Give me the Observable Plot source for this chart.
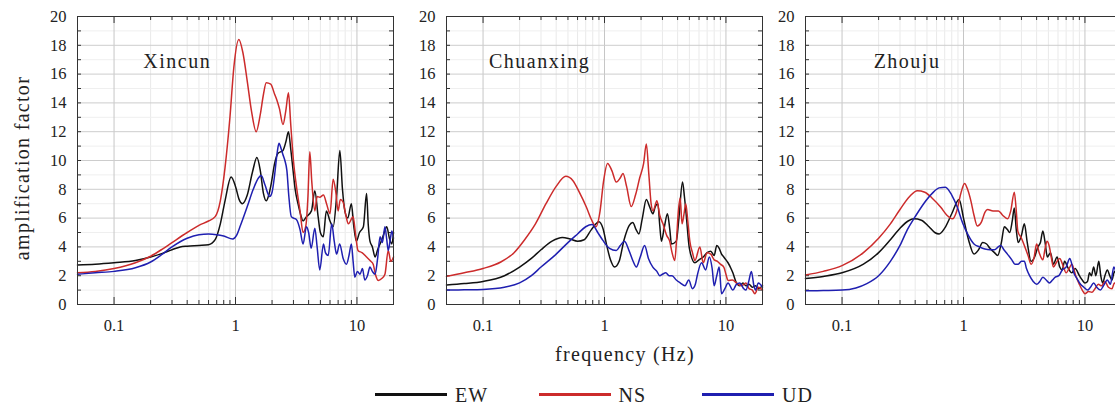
<!DOCTYPE html>
<html>
<head>
<meta charset="utf-8">
<script src="https://cdn.jsdelivr.net/npm/d3@7"></script>
<script src="https://cdn.jsdelivr.net/npm/@observablehq/plot@0.6"></script>
<style>
  html, body { margin: 0; padding: 0; background: #fff; overflow: hidden; }
  #wrap { position: relative; width: 1115px; height: 410px; overflow: hidden;
          font-family: "Liberation Serif", "DejaVu Serif", serif; color: #222; }
  .panel { position: absolute; top: 0; }
  .ylab { position: absolute; left: 22px; top: 168px; transform: translate(-50%, -50%) rotate(-90deg);
          font-size: 20px; letter-spacing: 1.3px; white-space: nowrap; line-height: 20px; }
  .xlab { position: absolute; left: 625px; top: 344px; transform: translateX(-50%);
          font-size: 20px; letter-spacing: 1.3px; white-space: nowrap; line-height: 20px; }
  .lg-bar { position: absolute; height: 3px; }
  .lg-txt { position: absolute; font-size: 20px; letter-spacing: 1px; line-height: 20px; white-space: nowrap; }
</style>
</head>
<body>
<div id="wrap"></div>
<script>
// ---------------- data ----------------
const stations = ["Xincun", "Chuanxing", "Zhouju"];
const components = ["EW", "NS", "UD"];
const componentColors = ["#111111", "#cc2b2b", "#1f1fb0"];
const xTickValues = [0.1, 1, 10];
const yTickValues = [0, 2, 4, 6, 8, 10, 12, 14, 16, 18, 20];
const xLabel = "frequency (Hz)";
const yLabel = "amplification factor";

// [frequency (Hz), amplification factor]
const xincunEW = [[0.05,2.75],[0.07,2.8],[0.1,2.9],[0.15,3.05],[0.2,3.3],[0.25,3.55],[0.3,3.8],[0.35,4.0],[0.4,4.05],[0.5,4.1],[0.6,4.15],[0.68,4.5],[0.75,5.6],[0.82,7.2],[0.92,8.85],[1.0,8.2],[1.07,7.3],[1.14,7.0],[1.25,7.6],[1.38,9.2],[1.5,10.2],[1.6,9.3],[1.7,7.7],[1.79,7.2],[1.88,7.6],[1.97,8.4],[2.1,9.8],[2.24,10.5],[2.46,10.7],[2.6,11.3],[2.73,12.0],[2.85,10.8],[2.98,9.3],[3.1,8.0],[3.27,7.0],[3.45,6.2],[3.6,5.8],[3.84,6.1],[4.22,6.5],[4.5,7.9],[4.79,6.1],[5.0,5.0],[5.28,4.7],[5.6,6.5],[6.0,5.8],[6.37,5.4],[6.8,7.5],[7.23,10.7],[7.6,8.0],[7.95,6.5],[8.4,6.0],[9.0,7.0],[9.4,5.5],[9.9,4.4],[10.5,5.0],[11.3,5.4],[12.0,7.7],[12.4,5.5],[12.8,4.4],[13.4,4.0],[14.1,3.3],[14.8,3.8],[15.5,4.2],[16.5,4.8],[17.6,5.4],[18.5,4.6],[19.4,4.2],[20,5.0]];
const xincunNS = [[0.05,2.2],[0.07,2.3],[0.1,2.5],[0.15,2.9],[0.2,3.35],[0.25,3.85],[0.3,4.3],[0.4,5.0],[0.5,5.5],[0.6,5.8],[0.68,6.1],[0.75,7.2],[0.82,9.5],[0.9,13.0],[0.97,16.5],[1.065,18.4],[1.15,17.5],[1.25,15.5],[1.35,13.5],[1.48,12.0],[1.6,13.2],[1.7,14.6],[1.79,15.4],[1.95,15.3],[2.1,14.6],[2.19,14.2],[2.3,13.6],[2.46,12.5],[2.6,13.5],[2.73,14.7],[2.85,12.5],[3.0,10.0],[3.2,8.0],[3.4,6.5],[3.6,5.0],[3.8,5.5],[3.95,7.5],[4.09,10.6],[4.25,8.5],[4.5,6.5],[4.7,7.5],[4.94,7.45],[5.3,7.6],[5.62,7.0],[6.0,6.3],[6.37,8.7],[6.7,7.8],[7.0,6.5],[7.3,7.3],[7.7,7.1],[8.1,6.2],[8.5,5.6],[9.3,6.1],[9.7,5.0],[10.2,3.75],[11.0,3.6],[12.0,3.3],[13.0,3.0],[13.6,2.8],[14.3,2.0],[15.0,1.67],[16.0,1.8],[17.0,2.1],[18.1,3.75],[19.0,3.0],[20,3.3]];
const xincunUD = [[0.05,2.1],[0.07,2.2],[0.1,2.3],[0.15,2.55],[0.2,2.95],[0.25,3.5],[0.3,4.0],[0.4,4.6],[0.5,4.85],[0.6,4.9],[0.7,4.85],[0.8,4.75],[0.95,4.55],[1.02,4.8],[1.1,5.5],[1.25,6.8],[1.4,8.0],[1.55,8.8],[1.63,8.95],[1.75,8.3],[1.91,7.5],[2.0,7.8],[2.1,9.0],[2.2,10.5],[2.28,11.2],[2.38,10.8],[2.46,10.4],[2.55,10.0],[2.65,9.3],[2.75,7.5],[2.88,6.1],[3.0,6.0],[3.17,5.9],[3.4,5.2],[3.6,4.2],[3.84,5.4],[4.0,5.0],[4.2,3.9],[4.5,5.3],[4.7,4.0],[4.94,2.4],[5.3,4.2],[5.5,3.6],[5.8,3.4],[6.2,5.6],[6.5,4.4],[6.8,3.5],[7.2,4.2],[7.7,3.2],[8.2,2.8],[8.6,3.4],[9.0,4.2],[9.3,3.0],[9.6,1.9],[10.1,2.3],[10.6,2.1],[11.1,2.5],[11.6,1.7],[12.2,2.0],[12.8,2.6],[13.4,2.3],[14.1,2.1],[14.8,3.2],[15.5,4.7],[16.2,4.3],[17.0,5.4],[17.6,4.5],[18.1,3.75],[18.8,4.5],[19.4,5.1],[20,4.6]];

const chuanxingEW = [[0.05,1.35],[0.07,1.45],[0.1,1.6],[0.15,2.0],[0.2,2.6],[0.25,3.2],[0.3,3.8],[0.37,4.4],[0.45,4.65],[0.52,4.55],[0.6,4.4],[0.68,4.5],[0.78,5.2],[0.9,5.75],[0.97,5.3],[1.05,4.0],[1.12,3.1],[1.21,2.6],[1.32,3.0],[1.45,4.5],[1.6,5.5],[1.71,5.7],[1.82,5.2],[1.92,4.9],[2.05,6.0],[2.21,7.3],[2.35,6.8],[2.5,6.3],[2.62,6.8],[2.75,7.0],[2.85,5.5],[2.94,4.4],[3.1,5.3],[3.3,6.3],[3.45,5.2],[3.56,4.2],[3.9,4.4],[4.1,6.0],[4.39,8.5],[4.55,7.5],[4.7,6.3],[5.0,3.9],[5.55,2.9],[6.0,3.1],[6.5,3.3],[7.0,3.6],[7.5,3.7],[8.0,3.4],[8.4,4.1],[8.8,3.9],[9.2,3.5],[9.6,3.3],[10.0,3.1],[10.4,2.9],[11.0,2.5],[11.4,2.2],[12.2,1.5],[13.0,1.3],[13.8,1.5],[14.6,1.3],[15.5,1.4],[16.5,1.2],[17.5,1.3],[18.5,1.1],[20,1.3]];
const chuanxingNS = [[0.05,1.95],[0.07,2.2],[0.1,2.5],[0.14,2.95],[0.18,3.6],[0.22,4.5],[0.27,5.6],[0.33,7.0],[0.4,8.2],[0.48,8.9],[0.55,8.6],[0.62,7.8],[0.71,6.75],[0.78,5.9],[0.85,5.4],[0.92,6.5],[0.98,8.5],[1.06,9.8],[1.15,9.3],[1.25,8.5],[1.35,8.8],[1.42,9.1],[1.52,8.2],[1.66,6.8],[1.8,7.6],[1.95,8.8],[2.1,9.8],[2.21,11.15],[2.32,9.0],[2.42,7.0],[2.51,6.5],[2.7,7.2],[2.85,6.2],[3.03,5.6],[3.25,4.8],[3.44,4.4],[3.6,3.6],[3.79,3.05],[3.92,4.5],[4.04,6.3],[4.2,7.4],[4.35,5.6],[4.5,6.2],[4.67,7.0],[4.85,5.8],[5.04,4.4],[5.3,3.6],[5.55,3.05],[6.1,4.0],[6.5,2.9],[7.0,3.6],[7.5,3.5],[8.0,3.1],[8.5,3.0],[9.0,2.8],[9.6,2.6],[10.0,2.1],[10.4,1.67],[11.3,1.7],[12.2,1.5],[13.4,1.3],[14.6,1.5],[15.5,1.1],[16.5,1.0],[17.3,0.75],[18.5,1.2],[20,1.0]];
const chuanxingUD = [[0.05,1.0],[0.07,1.02],[0.1,1.05],[0.15,1.2],[0.2,1.5],[0.25,2.0],[0.3,2.6],[0.4,3.5],[0.5,4.3],[0.6,4.9],[0.7,5.4],[0.79,5.55],[0.88,5.0],[0.97,4.45],[1.1,3.9],[1.25,3.75],[1.35,4.1],[1.46,4.4],[1.6,3.7],[1.72,3.0],[1.83,2.6],[1.97,3.3],[2.14,4.1],[2.3,3.2],[2.5,2.6],[2.7,2.3],[2.85,2.0],[3.0,2.1],[3.2,2.2],[3.4,2.0],[3.6,2.0],[3.9,1.7],[4.2,1.5],[4.6,1.3],[4.94,1.7],[5.3,1.1],[5.6,1.4],[5.8,2.0],[6.3,2.9],[6.8,2.4],[7.3,3.3],[7.7,2.5],[8.0,1.3],[8.4,2.0],[8.8,2.6],[9.2,0.75],[9.8,1.1],[10.4,1.5],[11.4,1.0],[12.2,1.4],[13.0,1.5],[14.0,1.1],[14.6,1.0],[15.4,1.6],[16.2,2.3],[17.0,1.3],[17.5,1.0],[18.5,1.5],[20,1.2]];

const zhoujuEW = [[0.05,1.8],[0.07,1.95],[0.1,2.2],[0.15,2.8],[0.2,3.6],[0.25,4.5],[0.3,5.3],[0.35,5.8],[0.39,5.95],[0.45,5.85],[0.52,5.4],[0.58,5.0],[0.63,4.9],[0.7,5.3],[0.8,6.3],[0.92,7.3],[1.0,6.0],[1.1,4.5],[1.22,3.5],[1.33,3.8],[1.44,4.3],[1.55,4.2],[1.65,3.9],[1.8,3.6],[1.91,3.4],[2.05,4.3],[2.17,5.4],[2.3,5.2],[2.4,5.0],[2.52,5.8],[2.62,6.7],[2.72,5.2],[2.82,4.3],[3.0,4.8],[3.17,5.6],[3.35,4.3],[3.6,3.0],[3.85,3.3],[4.1,4.0],[4.3,4.3],[4.5,5.1],[4.7,4.3],[4.9,3.3],[5.2,3.6],[5.5,2.8],[5.9,3.3],[6.2,2.6],[6.5,2.4],[6.8,3.0],[7.2,2.6],[7.8,2.2],[8.3,2.5],[9.0,2.0],[9.5,1.7],[10.0,1.5],[10.5,1.6],[10.9,2.2],[11.3,2.0],[11.8,2.6],[12.3,2.0],[13.0,3.0],[13.5,2.0],[14.0,1.5],[14.6,2.0],[15.3,2.4],[16.0,2.0],[16.7,1.7],[17.5,2.3],[18.5,2.0],[20,2.2]];
const zhoujuNS = [[0.05,2.05],[0.07,2.3],[0.1,2.7],[0.15,3.6],[0.2,4.6],[0.25,5.6],[0.3,6.6],[0.36,7.5],[0.417,7.9],[0.48,7.8],[0.55,7.4],[0.65,6.75],[0.73,6.2],[0.81,5.95],[0.88,6.5],[0.95,7.7],[1.02,8.4],[1.08,8.0],[1.15,7.2],[1.22,6.2],[1.3,5.45],[1.4,5.7],[1.5,6.4],[1.58,6.6],[1.75,6.5],[1.94,6.5],[2.1,6.2],[2.31,5.95],[2.45,6.5],[2.62,7.8],[2.72,6.5],[2.8,5.1],[3.0,4.6],[3.17,4.1],[3.4,3.4],[3.6,2.8],[3.8,3.2],[4.0,4.2],[4.2,3.6],[4.5,3.1],[4.7,3.9],[4.88,4.4],[5.1,4.0],[5.3,3.2],[5.5,2.6],[5.8,2.9],[6.2,3.2],[6.6,2.7],[7.0,2.2],[7.4,2.5],[7.8,2.8],[8.4,2.0],[9.0,1.4],[9.5,1.0],[10,0.75],[10.7,0.9],[11.4,0.85],[12.1,1.1],[12.9,1.4],[13.7,1.3],[14.6,1.6],[15.6,1.2],[16.7,1.1],[17.5,1.5],[18.5,1.3],[20,1.2]];
const zhoujuUD = [[0.05,0.95],[0.07,0.97],[0.1,1.0],[0.13,1.15],[0.16,1.45],[0.2,2.0],[0.25,3.0],[0.3,4.1],[0.345,5.2],[0.4,6.1],[0.47,7.0],[0.55,7.7],[0.63,8.1],[0.71,8.15],[0.8,7.6],[0.89,6.75],[0.98,5.7],[1.08,4.9],[1.22,4.2],[1.35,4.0],[1.5,3.85],[1.65,3.8],[1.8,3.8],[1.93,4.0],[2.03,4.1],[2.15,3.8],[2.3,3.5],[2.5,3.1],[2.65,2.8],[2.82,2.8],[3.0,3.0],[3.17,3.0],[3.3,2.5],[3.5,2.0],[3.75,1.6],[4.0,1.4],[4.25,1.6],[4.5,1.9],[4.8,1.7],[5.1,1.5],[5.4,1.7],[5.7,1.9],[6.1,2.0],[6.5,2.4],[7.0,2.6],[7.5,3.2],[7.8,2.8],[8.1,2.2],[8.6,1.8],[9.2,1.4],[9.8,1.2],[10.5,1.0],[11.1,1.2],[11.8,1.5],[12.5,1.2],[13.4,1.0],[14.2,1.3],[15.3,1.7],[16.2,1.4],[17.3,2.6],[18.5,2.0],[20,2.3]];

const stationSeries = [
  [xincunEW, xincunNS, xincunUD],
  [chuanxingEW, chuanxingNS, chuanxingUD],
  [zhoujuEW, zhoujuNS, zhoujuUD]
];
// where each station name sits (frequency, amplification at baseline)
const stationLabelFreq = [0.174, 0.112, 0.182];
const stationLabelAmp = 16.4;

// ---------------- layout ----------------
const W = 316, H = 288, ML = 50, MR = 10, MT = 16, MB = 40;
const frameLefts = [77, 446, 805];
const font = '"Liberation Serif", "DejaVu Serif", serif';
const xDomain = [0.05, 20];
const yDomain = [0, 20];

const decades = [0.01, 0.1, 1];
const minorX = decades.flatMap(d => d3.range(2, 10).map(k => +(k * d * 10).toPrecision(3)))
  .filter(v => v > xDomain[0] && v < xDomain[1] && !xTickValues.includes(v));
const unitY = d3.range(1, 20);
const oddY = unitY.filter(v => v % 2 === 1);
const gridY = yTickValues.filter(v => v > 0 && v < 20);

const wrap = document.getElementById("wrap");

stations.forEach((name, i) => {
  const data = [];
  components.forEach((c, j) => {
    stationSeries[i][j].forEach(([f, a]) => data.push({comp: c, f, a}));
  });
  const chart = Plot.plot({
    width: ML + W + MR, height: MT + H + MB,
    marginLeft: ML, marginRight: MR, marginTop: MT, marginBottom: MB,
    style: {fontFamily: font, fontSize: "16.5px", color: "#222", background: "transparent", overflow: "visible"},
    x: {type: "log", domain: xDomain},
    y: {domain: yDomain},
    color: {domain: components, range: componentColors},
    marks: [
      Plot.ruleX(minorX, {stroke: "#e9e9e9", strokeWidth: 1}),
      Plot.ruleY(oddY, {stroke: "#efefef", strokeWidth: 1}),
      Plot.ruleX(xTickValues, {stroke: "#c6c6c6", strokeWidth: 1}),
      Plot.ruleY(gridY, {stroke: "#cdcdcd", strokeWidth: 1}),
      // inward ticks on the frame
      Plot.ruleX(minorX, {insetTop: H - 4, stroke: "#333"}),
      Plot.ruleX(minorX, {insetBottom: H - 4, stroke: "#333"}),
      Plot.ruleX(xTickValues, {insetTop: H - 7, stroke: "#333"}),
      Plot.ruleX(xTickValues, {insetBottom: H - 7, stroke: "#333"}),
      Plot.ruleY(unitY, {insetRight: W - 4, stroke: "#333"}),
      Plot.ruleY(unitY, {insetLeft: W - 4, stroke: "#333"}),
      Plot.line(data, {x: "f", y: "a", z: "comp", stroke: "comp", curve: "monotone-x", strokeWidth: 1.5}),
      Plot.text([name], {x: stationLabelFreq[i], y: stationLabelAmp, text: d => d, textAnchor: "start",
        lineAnchor: "bottom", fontSize: 20, fill: "#222"}),
      Plot.frame({stroke: "#333", strokeWidth: 1}),
      Plot.axisX({ticks: xTickValues, tickSize: 0, tickPadding: 15, tickFormat: d => String(d), label: null}),
      Plot.axisY({ticks: yTickValues, tickSize: 0, tickPadding: 11, label: null})
    ]
  });
  d3.select(chart).selectAll('g[aria-label="text"] text').attr("letter-spacing", "1.5px");
  chart.classList.add("panel");
  chart.style.left = (frameLefts[i] - ML) + "px";
  wrap.appendChild(chart);
});

// axis titles
const yl = document.createElement("div");
yl.className = "ylab"; yl.textContent = yLabel; wrap.appendChild(yl);
const xl = document.createElement("div");
xl.className = "xlab"; xl.textContent = xLabel; wrap.appendChild(xl);

// legend
const legendLeft = 375, legendStep = 163.5, barWidth = 72;
components.forEach((c, j) => {
  const x0 = legendLeft + j * legendStep;
  const bar = document.createElement("div");
  bar.className = "lg-bar";
  bar.style.left = x0 + "px"; bar.style.top = "393px"; bar.style.width = barWidth + "px";
  bar.style.background = componentColors[j];
  wrap.appendChild(bar);
  const t = document.createElement("div");
  t.className = "lg-txt";
  t.style.left = (x0 + barWidth + 8) + "px"; t.style.top = "385px";
  t.textContent = c;
  wrap.appendChild(t);
});
</script>
</body>
</html>
